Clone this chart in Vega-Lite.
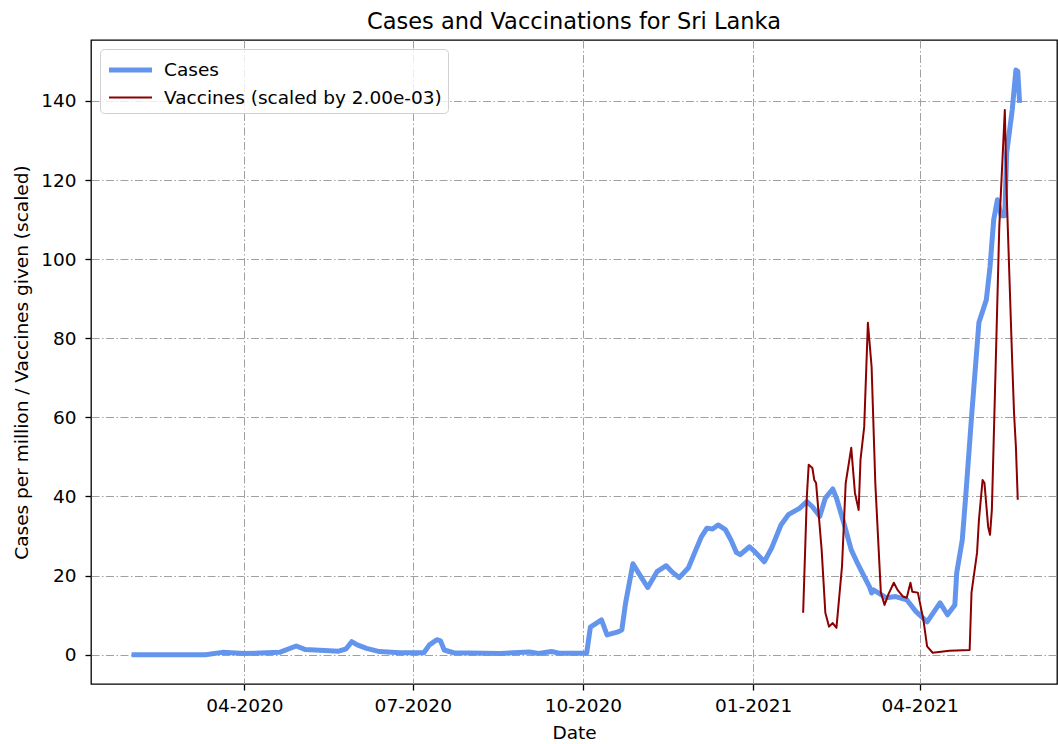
{
  "$schema": "https://vega.github.io/schema/vega-lite/v6.json",
  "autosize": {"type": "none"},
  "width": 966,
  "height": 644,
  "padding": {"left": 91, "top": 40, "right": 1, "bottom": 60},
  "title": {"text": "Cases and Vaccinations for Sri Lanka", "fontSize": 22.5, "fontWeight": "normal", "color": "black", "anchor": "middle", "offset": 7},
  "data": {"values": [
    {"date": "2020-01-31", "series": "Cases", "value": 0},
    {"date": "2020-02-20", "series": "Cases", "value": 0},
    {"date": "2020-03-11", "series": "Cases", "value": 0},
    {"date": "2020-03-20", "series": "Cases", "value": 0.6},
    {"date": "2020-04-01", "series": "Cases", "value": 0.3},
    {"date": "2020-04-20", "series": "Cases", "value": 0.6},
    {"date": "2020-04-29", "series": "Cases", "value": 2.2},
    {"date": "2020-05-04", "series": "Cases", "value": 1.3},
    {"date": "2020-05-22", "series": "Cases", "value": 0.9},
    {"date": "2020-05-26", "series": "Cases", "value": 1.5},
    {"date": "2020-05-29", "series": "Cases", "value": 3.3},
    {"date": "2020-06-01", "series": "Cases", "value": 2.5},
    {"date": "2020-06-06", "series": "Cases", "value": 1.6},
    {"date": "2020-06-13", "series": "Cases", "value": 0.8},
    {"date": "2020-06-24", "series": "Cases", "value": 0.5},
    {"date": "2020-07-07", "series": "Cases", "value": 0.5},
    {"date": "2020-07-10", "series": "Cases", "value": 2.5},
    {"date": "2020-07-14", "series": "Cases", "value": 3.8},
    {"date": "2020-07-16", "series": "Cases", "value": 3.5},
    {"date": "2020-07-18", "series": "Cases", "value": 1.2},
    {"date": "2020-07-23", "series": "Cases", "value": 0.5},
    {"date": "2020-08-17", "series": "Cases", "value": 0.3},
    {"date": "2020-09-02", "series": "Cases", "value": 0.7},
    {"date": "2020-09-07", "series": "Cases", "value": 0.3},
    {"date": "2020-09-14", "series": "Cases", "value": 0.8},
    {"date": "2020-09-18", "series": "Cases", "value": 0.4},
    {"date": "2020-10-03", "series": "Cases", "value": 0.4},
    {"date": "2020-10-05", "series": "Cases", "value": 7},
    {"date": "2020-10-11", "series": "Cases", "value": 8.8},
    {"date": "2020-10-14", "series": "Cases", "value": 5},
    {"date": "2020-10-20", "series": "Cases", "value": 5.8},
    {"date": "2020-10-22", "series": "Cases", "value": 6.3},
    {"date": "2020-10-24", "series": "Cases", "value": 13},
    {"date": "2020-10-28", "series": "Cases", "value": 23},
    {"date": "2020-10-31", "series": "Cases", "value": 20.7},
    {"date": "2020-11-05", "series": "Cases", "value": 17},
    {"date": "2020-11-10", "series": "Cases", "value": 21},
    {"date": "2020-11-15", "series": "Cases", "value": 22.5},
    {"date": "2020-11-18", "series": "Cases", "value": 21},
    {"date": "2020-11-22", "series": "Cases", "value": 19.5},
    {"date": "2020-11-27", "series": "Cases", "value": 22},
    {"date": "2020-12-01", "series": "Cases", "value": 26.5},
    {"date": "2020-12-04", "series": "Cases", "value": 29.8},
    {"date": "2020-12-07", "series": "Cases", "value": 32},
    {"date": "2020-12-10", "series": "Cases", "value": 31.8},
    {"date": "2020-12-13", "series": "Cases", "value": 32.8},
    {"date": "2020-12-17", "series": "Cases", "value": 31.6},
    {"date": "2020-12-20", "series": "Cases", "value": 29},
    {"date": "2020-12-23", "series": "Cases", "value": 25.8},
    {"date": "2020-12-25", "series": "Cases", "value": 25.3},
    {"date": "2020-12-30", "series": "Cases", "value": 27.3},
    {"date": "2021-01-02", "series": "Cases", "value": 26},
    {"date": "2021-01-07", "series": "Cases", "value": 23.5},
    {"date": "2021-01-11", "series": "Cases", "value": 27},
    {"date": "2021-01-16", "series": "Cases", "value": 32.8},
    {"date": "2021-01-20", "series": "Cases", "value": 35.4},
    {"date": "2021-01-26", "series": "Cases", "value": 37},
    {"date": "2021-01-30", "series": "Cases", "value": 38.7},
    {"date": "2021-02-02", "series": "Cases", "value": 37.4},
    {"date": "2021-02-06", "series": "Cases", "value": 35},
    {"date": "2021-02-09", "series": "Cases", "value": 39.6},
    {"date": "2021-02-13", "series": "Cases", "value": 41.9},
    {"date": "2021-02-15", "series": "Cases", "value": 39.6},
    {"date": "2021-02-19", "series": "Cases", "value": 33.3},
    {"date": "2021-02-23", "series": "Cases", "value": 26.5},
    {"date": "2021-02-26", "series": "Cases", "value": 23.5},
    {"date": "2021-03-01", "series": "Cases", "value": 20.7},
    {"date": "2021-03-05", "series": "Cases", "value": 17},
    {"date": "2021-03-06", "series": "Cases", "value": 15.6},
    {"date": "2021-03-07", "series": "Cases", "value": 16.4},
    {"date": "2021-03-14", "series": "Cases", "value": 14.4},
    {"date": "2021-03-19", "series": "Cases", "value": 14.7},
    {"date": "2021-03-25", "series": "Cases", "value": 13.9},
    {"date": "2021-03-30", "series": "Cases", "value": 10.9},
    {"date": "2021-04-05", "series": "Cases", "value": 8.3},
    {"date": "2021-04-12", "series": "Cases", "value": 13.1},
    {"date": "2021-04-16", "series": "Cases", "value": 10.1},
    {"date": "2021-04-20", "series": "Cases", "value": 12.6},
    {"date": "2021-04-21", "series": "Cases", "value": 20.7},
    {"date": "2021-04-24", "series": "Cases", "value": 29},
    {"date": "2021-04-26", "series": "Cases", "value": 40.9},
    {"date": "2021-04-29", "series": "Cases", "value": 60},
    {"date": "2021-05-01", "series": "Cases", "value": 72},
    {"date": "2021-05-03", "series": "Cases", "value": 84},
    {"date": "2021-05-07", "series": "Cases", "value": 89.7},
    {"date": "2021-05-09", "series": "Cases", "value": 98},
    {"date": "2021-05-11", "series": "Cases", "value": 110},
    {"date": "2021-05-13", "series": "Cases", "value": 115},
    {"date": "2021-05-15", "series": "Cases", "value": 111},
    {"date": "2021-05-17", "series": "Cases", "value": 111},
    {"date": "2021-05-18", "series": "Cases", "value": 126.8},
    {"date": "2021-05-21", "series": "Cases", "value": 137.7},
    {"date": "2021-05-23", "series": "Cases", "value": 147.8},
    {"date": "2021-05-24", "series": "Cases", "value": 147.5},
    {"date": "2021-05-25", "series": "Cases", "value": 139.5},
    {"date": "2021-01-28", "series": "Vaccines (scaled by 2.00e-03)", "value": 10.6},
    {"date": "2021-01-30", "series": "Vaccines (scaled by 2.00e-03)", "value": 40},
    {"date": "2021-01-31", "series": "Vaccines (scaled by 2.00e-03)", "value": 48},
    {"date": "2021-02-02", "series": "Vaccines (scaled by 2.00e-03)", "value": 47.2},
    {"date": "2021-02-03", "series": "Vaccines (scaled by 2.00e-03)", "value": 44.2},
    {"date": "2021-02-04", "series": "Vaccines (scaled by 2.00e-03)", "value": 43.4},
    {"date": "2021-02-07", "series": "Vaccines (scaled by 2.00e-03)", "value": 26.5},
    {"date": "2021-02-09", "series": "Vaccines (scaled by 2.00e-03)", "value": 10.6},
    {"date": "2021-02-11", "series": "Vaccines (scaled by 2.00e-03)", "value": 7.1},
    {"date": "2021-02-13", "series": "Vaccines (scaled by 2.00e-03)", "value": 8},
    {"date": "2021-02-15", "series": "Vaccines (scaled by 2.00e-03)", "value": 6.8},
    {"date": "2021-02-18", "series": "Vaccines (scaled by 2.00e-03)", "value": 22.3},
    {"date": "2021-02-20", "series": "Vaccines (scaled by 2.00e-03)", "value": 43.4},
    {"date": "2021-02-23", "series": "Vaccines (scaled by 2.00e-03)", "value": 52.3},
    {"date": "2021-02-25", "series": "Vaccines (scaled by 2.00e-03)", "value": 40.9},
    {"date": "2021-02-27", "series": "Vaccines (scaled by 2.00e-03)", "value": 36.6},
    {"date": "2021-02-28", "series": "Vaccines (scaled by 2.00e-03)", "value": 49.3},
    {"date": "2021-03-02", "series": "Vaccines (scaled by 2.00e-03)", "value": 57.6},
    {"date": "2021-03-04", "series": "Vaccines (scaled by 2.00e-03)", "value": 83.9},
    {"date": "2021-03-06", "series": "Vaccines (scaled by 2.00e-03)", "value": 72.8},
    {"date": "2021-03-08", "series": "Vaccines (scaled by 2.00e-03)", "value": 43.4},
    {"date": "2021-03-11", "series": "Vaccines (scaled by 2.00e-03)", "value": 15.7},
    {"date": "2021-03-13", "series": "Vaccines (scaled by 2.00e-03)", "value": 12.6},
    {"date": "2021-03-15", "series": "Vaccines (scaled by 2.00e-03)", "value": 15.2},
    {"date": "2021-03-18", "series": "Vaccines (scaled by 2.00e-03)", "value": 18.2},
    {"date": "2021-03-20", "series": "Vaccines (scaled by 2.00e-03)", "value": 16.4},
    {"date": "2021-03-23", "series": "Vaccines (scaled by 2.00e-03)", "value": 14.7},
    {"date": "2021-03-25", "series": "Vaccines (scaled by 2.00e-03)", "value": 14.4},
    {"date": "2021-03-27", "series": "Vaccines (scaled by 2.00e-03)", "value": 18.2},
    {"date": "2021-03-28", "series": "Vaccines (scaled by 2.00e-03)", "value": 15.9},
    {"date": "2021-03-31", "series": "Vaccines (scaled by 2.00e-03)", "value": 15.7},
    {"date": "2021-04-03", "series": "Vaccines (scaled by 2.00e-03)", "value": 8.8},
    {"date": "2021-04-05", "series": "Vaccines (scaled by 2.00e-03)", "value": 2.1},
    {"date": "2021-04-08", "series": "Vaccines (scaled by 2.00e-03)", "value": 0.5},
    {"date": "2021-04-17", "series": "Vaccines (scaled by 2.00e-03)", "value": 1.0},
    {"date": "2021-04-28", "series": "Vaccines (scaled by 2.00e-03)", "value": 1.2},
    {"date": "2021-04-29", "series": "Vaccines (scaled by 2.00e-03)", "value": 15.7},
    {"date": "2021-05-02", "series": "Vaccines (scaled by 2.00e-03)", "value": 25.8},
    {"date": "2021-05-03", "series": "Vaccines (scaled by 2.00e-03)", "value": 34},
    {"date": "2021-05-05", "series": "Vaccines (scaled by 2.00e-03)", "value": 44.2},
    {"date": "2021-05-06", "series": "Vaccines (scaled by 2.00e-03)", "value": 43.4},
    {"date": "2021-05-08", "series": "Vaccines (scaled by 2.00e-03)", "value": 32.3},
    {"date": "2021-05-09", "series": "Vaccines (scaled by 2.00e-03)", "value": 30.3},
    {"date": "2021-05-10", "series": "Vaccines (scaled by 2.00e-03)", "value": 36.6},
    {"date": "2021-05-12", "series": "Vaccines (scaled by 2.00e-03)", "value": 72},
    {"date": "2021-05-14", "series": "Vaccines (scaled by 2.00e-03)", "value": 108},
    {"date": "2021-05-17", "series": "Vaccines (scaled by 2.00e-03)", "value": 137.7},
    {"date": "2021-05-18", "series": "Vaccines (scaled by 2.00e-03)", "value": 116.7},
    {"date": "2021-05-21", "series": "Vaccines (scaled by 2.00e-03)", "value": 74},
    {"date": "2021-05-22", "series": "Vaccines (scaled by 2.00e-03)", "value": 61},
    {"date": "2021-05-23", "series": "Vaccines (scaled by 2.00e-03)", "value": 52.5},
    {"date": "2021-05-24", "series": "Vaccines (scaled by 2.00e-03)", "value": 39.2}
  ]},
  "mark": {"type": "line", "strokeJoin": "round", "strokeCap": "butt", "clip": true},
  "encoding": {
    "x": {
      "field": "date", "type": "temporal",
      "scale": {"type": "utc", "domain": [{"year": 2020, "month": 1, "date": 9, "hours": 2, "utc": true}, {"year": 2021, "month": 6, "date": 14, "hours": 5, "utc": true}]},
      "axis": {
        "title": "Date", "format": "%m-%Y",
        "values": [
          {"year": 2020, "month": 4, "date": 1, "utc": true},
          {"year": 2020, "month": 7, "date": 1, "utc": true},
          {"year": 2020, "month": 10, "date": 1, "utc": true},
          {"year": 2021, "month": 1, "date": 1, "utc": true},
          {"year": 2021, "month": 4, "date": 1, "utc": true}
        ],
        "labelPadding": 6, "titlePadding": 9
      }
    },
    "y": {
      "field": "value", "type": "quantitative",
      "scale": {"domain": [-7.4, 155.4], "nice": false, "zero": false},
      "axis": {"title": "Cases per million / Vaccines given (scaled)", "values": [0, 20, 40, 60, 80, 100, 120, 140], "labelPadding": 9, "titlePadding": 9}
    },
    "color": {
      "field": "series", "type": "nominal",
      "scale": {"domain": ["Cases", "Vaccines (scaled by 2.00e-03)"], "range": ["#6495ED", "#8B0000"]},
      "legend": {"title": null}
    },
    "strokeWidth": {
      "field": "series", "type": "nominal",
      "scale": {"domain": ["Cases", "Vaccines (scaled by 2.00e-03)"], "range": [5, 2]},
      "legend": {"title": null}
    }
  },
  "config": {
    "font": "DejaVu Sans",
    "view": {"stroke": "black", "strokeWidth": 1.3},
    "axis": {
      "labelFont": "DejaVu Sans", "titleFont": "DejaVu Sans",
      "labelFontSize": 18.5, "titleFontSize": 18.5, "titleFontWeight": "normal",
      "labelColor": "black", "titleColor": "black",
      "tickColor": "black", "tickSize": 6, "tickWidth": 1.3,
      "domain": false, "grid": true, "gridColor": "#a0a0a0", "gridWidth": 1,
      "gridDash": [8, 2.5, 1.5, 2.5], "labelFlush": false, "labelOverlap": false
    },
    "legend": {
      "orient": "top-left", "offset": 9, "padding": 6,
      "strokeColor": "#d0d0d0", "fillColor": "rgba(255,255,255,0.8)", "cornerRadius": 4,
      "labelFont": "DejaVu Sans", "labelFontSize": 18.5, "labelColor": "black", "labelLimit": 0,
      "symbolType": "M-1.72,0H1.72", "symbolSize": 625, "symbolOffset": 9.5, "labelOffset": 18.5, "rowPadding": 4
    }
  }
}
